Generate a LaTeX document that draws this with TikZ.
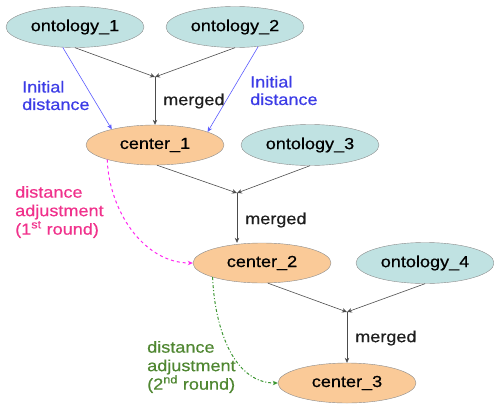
\documentclass[tikz,border=0pt]{standalone}
\usepackage{fontspec}
\setmainfont[FakeStretch=1.13,FakeBold=0.6]{Liberation Sans}
\usetikzlibrary{shapes.geometric,arrows.meta}
\definecolor{ontofill}{RGB}{192,226,226}
\definecolor{centfill}{RGB}{250,202,152}
\definecolor{edgegray}{RGB}{140,140,140}
\definecolor{bluetxt}{RGB}{60,60,230}
\definecolor{blueline}{RGB}{90,90,255}
\definecolor{magtxt}{RGB}{240,50,140}
\definecolor{magline}{RGB}{255,40,240}
\definecolor{greentxt}{RGB}{80,135,50}
\definecolor{greenline}{RGB}{60,150,50}
\definecolor{labtxt}{RGB}{30,30,30}
\tikzset{
  onto/.style={ellipse, draw=edgegray, fill=ontofill, minimum width=138pt, minimum height=41pt, inner sep=0pt, font=\fontsize{16}{18}\selectfont},
  cent/.style={ellipse, draw=edgegray, fill=centfill, minimum width=138pt, minimum height=40pt, inner sep=0pt, font=\fontsize{16}{18}\selectfont},
  tip/.style={-{Stealth[length=5pt,width=4.5pt]}},
  mergeline/.style={draw=black!70, line width=0.6pt, tip},
  blueline/.style={draw=blueline, line width=0.6pt, tip},
  magline/.style={draw=magline, line width=1pt, dashed, tip},
  greenline/.style={draw=greenline, line width=1pt, dash dot, tip},
  lab/.style={anchor=west, align=left, inner sep=0pt, font=\fontsize{16}{18.5}\selectfont},
}
\begin{document}
\begin{tikzpicture}[x=1pt,y=-1pt]
\useasboundingbox (0,0) rectangle (494,404);
\node[onto] (o1) at (75,27) {ontology\_1};
\node[onto] (o2) at (235,27) {ontology\_2};
\node[cent] (c1) at (155,145) {center\_1};
\node[onto] (o3) at (310,145) {ontology\_3};
\node[cent] (c2) at (262,263) {center\_2};
\node[onto] (o4) at (425,263) {ontology\_4};
\node[cent] (c3) at (347,383) {center\_3};

\coordinate (m1) at (155,77);
\coordinate (m2) at (237,193);
\coordinate (m3) at (347,312);

\draw[mergeline] (o1.south) -- (m1);
\draw[mergeline] (o2.south) -- (m1);
\draw[mergeline] (m1) -- (c1.north);
\draw[mergeline] ([xshift=2pt]c1.south) -- (m2);
\draw[mergeline] (o3.south) -- (m2);
\draw[mergeline] (m2) -- (c2.north -| m2);
\draw[mergeline] ([xshift=6pt]c2.south) -- (m3);
\draw[mergeline] (o4.south) -- (m3);
\draw[mergeline] (m3) -- (c3.north);

\draw[blueline] (o1.-121) -- (c1.160);
\draw[blueline] (o2.-40) -- (c1.14);
\draw[magline] (c1.-163) to[out=-88,in=180,looseness=0.95] (c2.west);
\draw[greenline] (c2.-164) to[out=-88,in=180,looseness=0.95] (c3.west);

\node[lab, text=labtxt] (t1) at (163,101) {merged};
\node[lab, text=labtxt] (t2) at (245,220) {merged};
\node[lab, text=labtxt] (t3) at (355,338) {merged};
\node[lab, text=bluetxt, font=\fontsize{16}{17.5}\selectfont] (b1) at (22,95.5) {Initial\\distance};
\node[lab, text=bluetxt, font=\fontsize{16}{17.5}\selectfont] (b2) at (250,90.5) {Initial\\distance};
\node[lab, text=magtxt] (a1) at (15,212) {distance\\adjustment\\(1\textsuperscript{st} round)};
\node[lab, text=greentxt] (a2) at (147,367) {distance\\adjustment\\(2\textsuperscript{nd} round)};
\end{tikzpicture}
\end{document}
